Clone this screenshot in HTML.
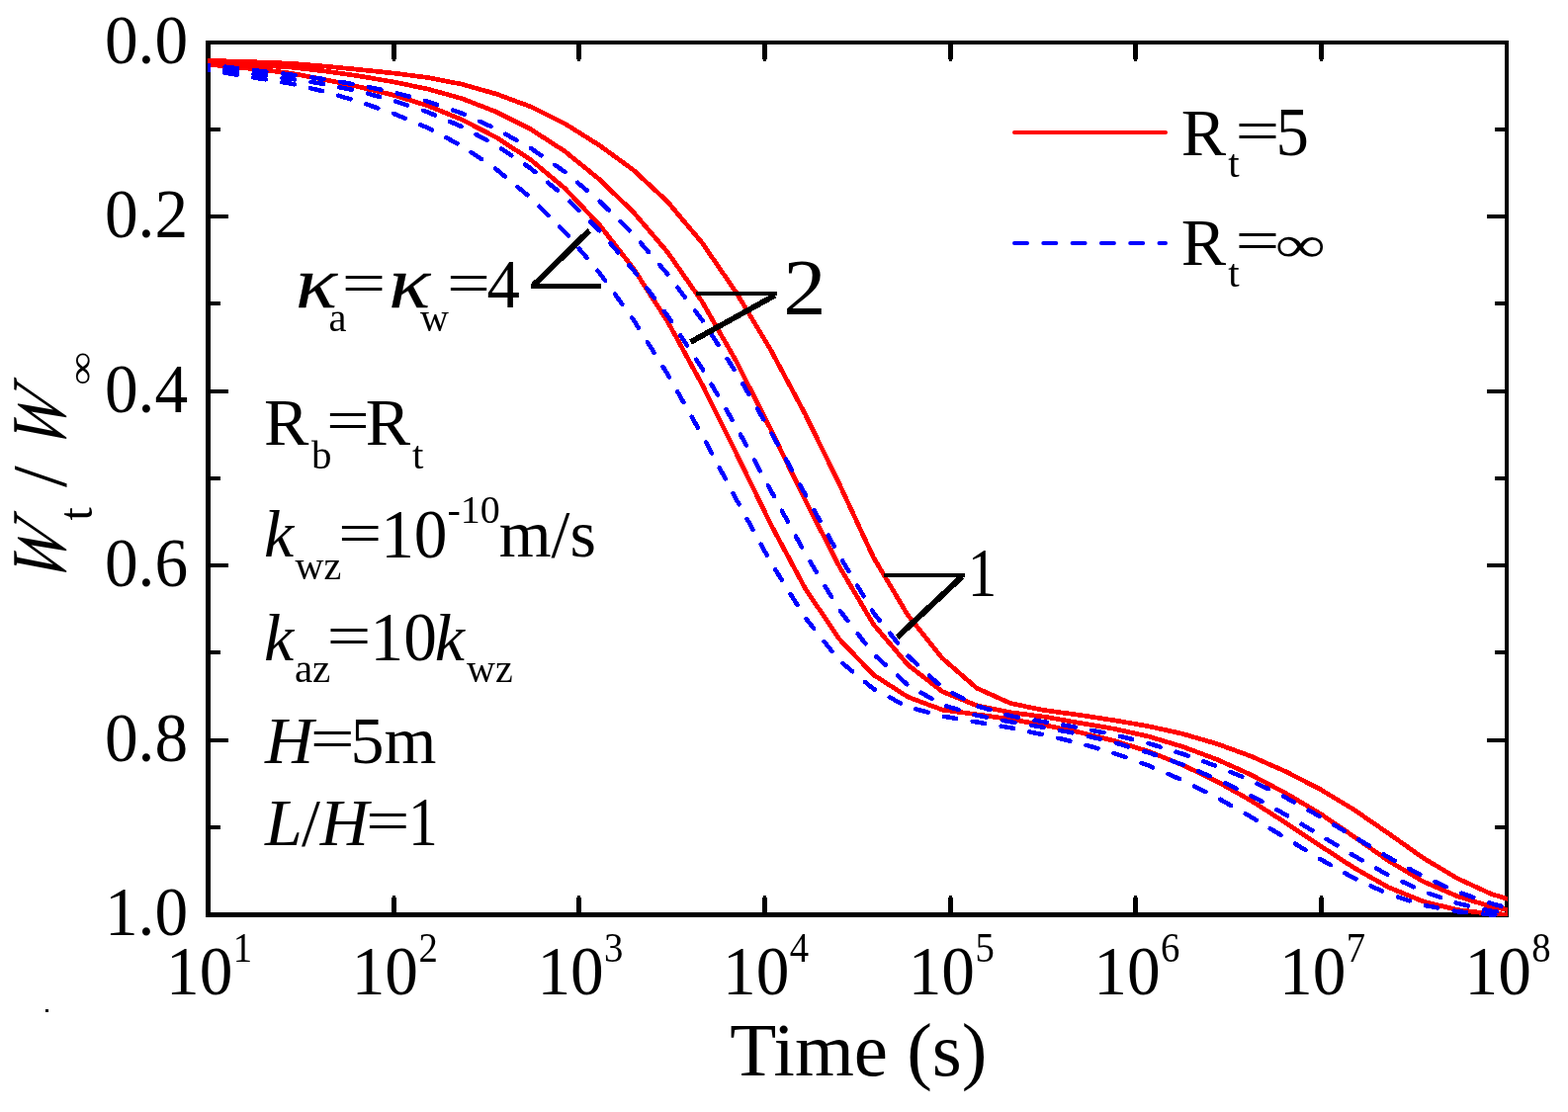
<!DOCTYPE html>
<html lang="en"><head><meta charset="utf-8"><title>Wt / W∞ versus Time (s)</title>
<style>html,body{margin:0;padding:0;background:#fff}body{width:1586px;height:1125px;overflow:hidden}svg{display:block}text{font-family:'Liberation Serif',serif;fill:#000;white-space:pre}.i{font-style:italic}.bi{font-style:italic;font-weight:bold}</style></head><body>
<svg width="1586" height="1125" viewBox="0 0 1586 1125" role="img" aria-label="Wt / W∞ versus Time (s)">
<rect x="0" y="0" width="1586" height="1125" fill="#fff"/>
<g fill="#000" shape-rendering="crispEdges">
<rect x="208" y="41" width="1318" height="4"/>
<rect x="208" y="923" width="1318" height="5"/>
<rect x="208" y="41" width="5" height="887"/>
<rect x="1522" y="41" width="4" height="887"/>
<rect x="396" y="43" width="5" height="17"/><rect x="397" y="60" width="3" height="2"/>
<rect x="396" y="908" width="5" height="17"/><rect x="397" y="906" width="3" height="2"/>
<rect x="583" y="43" width="5" height="17"/><rect x="584" y="60" width="3" height="2"/>
<rect x="583" y="908" width="5" height="17"/><rect x="584" y="906" width="3" height="2"/>
<rect x="771" y="43" width="5" height="17"/><rect x="772" y="60" width="3" height="2"/>
<rect x="771" y="908" width="5" height="17"/><rect x="772" y="906" width="3" height="2"/>
<rect x="959" y="43" width="5" height="17"/><rect x="960" y="60" width="3" height="2"/>
<rect x="959" y="908" width="5" height="17"/><rect x="960" y="906" width="3" height="2"/>
<rect x="1146" y="43" width="5" height="17"/><rect x="1147" y="60" width="3" height="2"/>
<rect x="1146" y="908" width="5" height="17"/><rect x="1147" y="906" width="3" height="2"/>
<rect x="1334" y="43" width="5" height="17"/><rect x="1335" y="60" width="3" height="2"/>
<rect x="1334" y="908" width="5" height="17"/><rect x="1335" y="906" width="3" height="2"/>
<rect x="211" y="129" width="11.5" height="4"/>
<rect x="1512" y="129" width="11.5" height="4"/>
<rect x="211" y="217" width="19.5" height="4"/>
<rect x="1504" y="217" width="19.5" height="4"/>
<rect x="211" y="305" width="11.5" height="4"/>
<rect x="1512" y="305" width="11.5" height="4"/>
<rect x="211" y="394" width="19.5" height="4"/>
<rect x="1504" y="394" width="19.5" height="4"/>
<rect x="211" y="482" width="11.5" height="4"/>
<rect x="1512" y="482" width="11.5" height="4"/>
<rect x="211" y="570" width="19.5" height="4"/>
<rect x="1504" y="570" width="19.5" height="4"/>
<rect x="211" y="658" width="11.5" height="4"/>
<rect x="1512" y="658" width="11.5" height="4"/>
<rect x="211" y="747" width="19.5" height="4"/>
<rect x="1504" y="747" width="19.5" height="4"/>
<rect x="211" y="835" width="11.5" height="4"/>
<rect x="1512" y="835" width="11.5" height="4"/>
</g>
<defs><clipPath id="plot"><rect x="210" y="43" width="1315" height="885"/></clipPath></defs>
<g fill="none" stroke="#f00" stroke-width="4.7" stroke-linejoin="round" shape-rendering="crispEdges" clip-path="url(#plot)">
<path d="M190.5,60.2 L210.5,61.1 L224.0,61.7 L258.8,62.8 L293.5,64.2 L328.2,67.0 L362.9,70.4 L397.6,74.0 L432.4,78.4 L467.1,85.2 L501.8,95.0 L536.5,107.8 L571.2,125.0 L606.0,146.8 L640.7,172.1 L675.4,204.2 L710.1,245.6 L744.8,296.1 L779.6,354.0 L814.3,418.8 L849.0,489.7 L883.7,564.3 L918.4,622.6 L953.2,665.9 L987.9,696.2 L1022.6,711.7 L1057.3,718.7 L1092.0,723.4 L1126.8,728.7 L1161.5,734.7 L1196.2,742.4 L1230.9,752.5 L1265.6,765.2 L1300.4,780.5 L1335.1,798.4 L1369.8,819.3 L1404.5,843.2 L1439.2,867.8 L1474.0,888.6 L1508.7,904.6 L1524.5,909.3 L1544.5,915.2"/>
<path d="M190.5,61.6 L210.5,63.1 L224.0,64.1 L258.8,65.9 L293.5,68.0 L328.2,71.9 L362.9,76.9 L397.6,82.8 L432.4,90.0 L467.1,99.7 L501.8,113.1 L536.5,130.6 L571.2,153.0 L606.0,181.2 L640.7,214.7 L675.4,255.3 L710.1,305.1 L744.8,365.7 L779.6,434.4 L814.3,505.8 L849.0,573.2 L883.7,631.9 L918.4,672.7 L953.2,699.7 L987.9,713.8 L1022.6,720.8 L1057.3,725.3 L1092.0,731.4 L1126.8,737.3 L1161.5,745.0 L1196.2,755.4 L1230.9,768.3 L1265.6,784.0 L1300.4,802.4 L1335.1,823.0 L1369.8,846.6 L1404.5,870.9 L1439.2,891.7 L1474.0,906.6 L1508.7,917.4 L1524.5,920.3 L1544.5,923.9"/>
<path d="M190.5,63.2 L210.5,65.2 L224.0,66.5 L258.8,69.9 L293.5,74.0 L328.2,80.5 L362.9,87.8 L397.6,96.1 L432.4,106.8 L467.1,121.0 L501.8,138.9 L536.5,161.4 L571.2,190.4 L606.0,227.1 L640.7,271.7 L675.4,325.4 L710.1,388.9 L744.8,458.8 L779.6,530.2 L814.3,595.2 L849.0,646.6 L883.7,682.9 L918.4,705.2 L953.2,718.1 L987.9,722.8 L1022.6,727.7 L1057.3,733.8 L1092.0,740.9 L1126.8,749.4 L1161.5,760.2 L1196.2,773.9 L1230.9,790.6 L1265.6,810.2 L1300.4,832.3 L1335.1,855.5 L1369.8,878.1 L1404.5,897.7 L1439.2,911.9 L1474.0,920.5 L1508.7,924.6 L1524.5,925.0 L1544.5,925.5"/>
</g>
<g fill="none" stroke="#00f" stroke-width="4.5" stroke-linecap="round" stroke-linejoin="round" shape-rendering="crispEdges" clip-path="url(#plot)">
<path d="M190.5,64.7 L210.5,66.1 L224.0,67.1 L258.8,71.4 L293.5,75.4 L328.2,80.1 L362.9,86.1 L397.6,93.3 L432.4,102.5 L467.1,114.7 L501.8,130.3 L536.5,149.7 L571.2,173.8 L606.0,203.0 L640.7,237.3 L675.4,277.5 L710.1,323.8 L744.8,377.2 L779.6,436.8 L814.3,499.8 L849.0,562.0 L883.7,620.2 L918.4,663.6 L953.2,695.7 L987.9,714.1 L1022.6,724.4 L1057.3,730.5 L1092.0,736.3 L1126.8,743.3 L1161.5,752.0 L1196.2,762.7 L1230.9,775.2 L1265.6,789.7 L1300.4,806.8 L1335.1,826.1 L1369.8,846.7 L1404.5,867.4 L1439.2,886.5 L1474.0,902.2 L1508.7,914.2 L1524.5,918.3 L1544.5,923.4" stroke-dasharray="12.60 16.77" stroke-dashoffset="21.37"/>
<path d="M190.5,66.3 L210.5,68.5 L224.0,70.0 L258.8,75.2 L293.5,79.7 L328.2,85.0 L362.9,92.3 L397.6,101.6 L432.4,113.3 L467.1,128.2 L501.8,146.9 L536.5,170.2 L571.2,198.7 L606.0,232.9 L640.7,273.3 L675.4,319.7 L710.1,372.7 L744.8,432.0 L779.6,496.0 L814.3,559.8 L849.0,617.0 L883.7,661.9 L918.4,693.2 L953.2,713.0 L987.9,723.7 L1022.6,730.4 L1057.3,736.2 L1092.0,742.7 L1126.8,751.1 L1161.5,761.4 L1196.2,773.6 L1230.9,788.2 L1265.6,805.1 L1300.4,824.1 L1335.1,844.9 L1369.8,865.9 L1404.5,885.5 L1439.2,901.7 L1474.0,913.8 L1508.7,921.8 L1524.5,923.5 L1544.5,925.7" stroke-dasharray="12.60 16.72" stroke-dashoffset="21.46"/>
<path d="M190.5,67.9 L210.5,71.0 L224.0,73.0 L258.8,78.8 L293.5,84.4 L328.2,92.6 L362.9,102.8 L397.6,114.7 L432.4,129.2 L467.1,147.7 L501.8,171.1 L536.5,199.8 L571.2,234.4 L606.0,275.5 L640.7,323.5 L675.4,378.7 L710.1,440.2 L744.8,505.3 L779.6,568.7 L814.3,624.7 L849.0,668.3 L883.7,697.1 L918.4,715.3 L953.2,724.5 L987.9,730.5 L1022.6,736.4 L1057.3,743.8 L1092.0,751.9 L1126.8,762.0 L1161.5,774.4 L1196.2,789.4 L1230.9,806.9 L1265.6,826.6 L1300.4,847.7 L1335.1,869.0 L1369.8,888.6 L1404.5,904.5 L1439.2,915.6 L1474.0,922.2 L1508.7,925.5 L1524.5,925.8 L1544.5,926.2" stroke-dasharray="12.60 16.74" stroke-dashoffset="21.36"/>
</g>
<text transform="translate(105.9,63.6) scale(0.955,1)" font-size="70.5">0.0</text>
<text transform="translate(105.9,240.1) scale(0.955,1)" font-size="70.5">0.2</text>
<text transform="translate(105.9,416.6) scale(0.955,1)" font-size="70.5">0.4</text>
<text transform="translate(105.9,593.1) scale(0.955,1)" font-size="70.5">0.6</text>
<text transform="translate(105.9,769.6) scale(0.955,1)" font-size="70.5">0.8</text>
<text transform="translate(105.9,946.1) scale(0.955,1)" font-size="70.5">1.0</text>
<text transform="translate(168.1,1006.2) scale(0.955,1)" font-size="70.5">10</text>
<text transform="translate(235.8,973.4) scale(0.900,1)" font-size="43">1</text>
<text transform="translate(355.7,1006.2) scale(0.955,1)" font-size="70.5">10</text>
<text transform="translate(423.4,973.4) scale(0.900,1)" font-size="43">2</text>
<text transform="translate(543.4,1006.2) scale(0.955,1)" font-size="70.5">10</text>
<text transform="translate(611.1,973.4) scale(0.900,1)" font-size="43">3</text>
<text transform="translate(731.0,1006.2) scale(0.955,1)" font-size="70.5">10</text>
<text transform="translate(798.7,973.4) scale(0.900,1)" font-size="43">4</text>
<text transform="translate(918.7,1006.2) scale(0.955,1)" font-size="70.5">10</text>
<text transform="translate(986.4,973.4) scale(0.900,1)" font-size="43">5</text>
<text transform="translate(1106.3,1006.2) scale(0.955,1)" font-size="70.5">10</text>
<text transform="translate(1174.0,973.4) scale(0.900,1)" font-size="43">6</text>
<text transform="translate(1294.0,1006.2) scale(0.955,1)" font-size="70.5">10</text>
<text transform="translate(1361.7,973.4) scale(0.900,1)" font-size="43">7</text>
<text transform="translate(1481.6,1006.2) scale(0.955,1)" font-size="70.5">10</text>
<text transform="translate(1549.3,973.4) scale(0.900,1)" font-size="43">8</text>
<text x="738.2" y="1088.2" font-size="77">Time (s)</text>
<text transform="translate(66.1,594.6) rotate(-90) skewX(-24) scale(0.74,1)" font-size="79">W</text>
<text transform="translate(92.6,526.5) rotate(-90)" font-size="48">t</text>
<text transform="translate(66.3,493.0) rotate(-90)" font-size="78">/</text>
<text transform="translate(66.1,459.4) rotate(-90) skewX(-24) scale(0.74,1)" font-size="79">W</text>
<text transform="translate(94.0,390.0) rotate(-90) scale(1,0.75)" font-size="48">∞</text>
<text transform="translate(299.0,310.9) scale(1.170,1)" font-size="74.5" class="i" stroke="#000" stroke-width="0.3" stroke-linejoin="round">κ</text>
<text x="332.5" y="334.7" font-size="40.5">a</text>
<text transform="translate(345.7,306.1) scale(1.161,0.859)" font-size="68">=</text>
<text transform="translate(393.2,310.9) scale(1.170,1)" font-size="74.5" class="i" stroke="#000" stroke-width="0.3" stroke-linejoin="round">κ</text>
<text x="425.0" y="334.6" font-size="40">w</text>
<text transform="translate(452.1,306.1) scale(1.148,0.859)" font-size="68">=</text>
<text transform="translate(492.6,311.0) scale(0.955,1)" font-size="70">4</text>
<text x="267.0" y="450.0" font-size="68">R</text>
<text x="314.9" y="473.5" font-size="41">b</text>
<text transform="translate(329.9,445.1) scale(1.142,0.859)" font-size="68">=</text>
<text x="369.7" y="450.0" font-size="68">R</text>
<text x="416.9" y="473.5" font-size="41">t</text>
<text x="267.0" y="563.4" font-size="68" class="i">k</text>
<text x="298.5" y="585.9" font-size="40">wz</text>
<text transform="translate(342.0,558.5) scale(1.157,0.859)" font-size="68">=</text>
<text transform="translate(385.2,563.6) scale(0.955,1)" font-size="70.5">10</text>
<text x="452.5" y="529.0" font-size="40">-10</text>
<text x="504.7" y="563.4" font-size="68">m/s</text>
<text x="267.0" y="667.6" font-size="68" class="i">k</text>
<text x="297.9" y="690.4" font-size="41">az</text>
<text transform="translate(330.6,662.7) scale(1.173,0.859)" font-size="68">=</text>
<text transform="translate(374.6,667.8) scale(0.955,1)" font-size="70.5">10</text>
<text x="439.8" y="667.6" font-size="68" class="i">k</text>
<text x="472.0" y="690.4" font-size="40">wz</text>
<text x="267.9" y="771.5" font-size="68" class="i">H</text>
<text transform="translate(313.7,766.6) scale(1.173,0.859)" font-size="68">=</text>
<text x="354.4" y="771.5" font-size="68">5m</text>
<text x="267.9" y="855.1" font-size="68" class="i">L</text>
<text x="305.0" y="855.1" font-size="68">/</text>
<text x="323.8" y="855.1" font-size="68" class="i">H</text>
<text transform="translate(369.9,850.2) scale(1.161,0.859)" font-size="68">=</text>
<text transform="translate(412.9,855.1) scale(0.850,1)" font-size="70">1</text>
<text transform="translate(792.2,317.5) scale(1.070,1)" font-size="81">2</text>
<text transform="translate(978.8,602.9) scale(0.850,1)" font-size="69.5">1</text>
<line x1="1026" y1="134" x2="1179" y2="134" stroke="#f00" stroke-width="4" stroke-linecap="round"/>
<line x1="1026" y1="246" x2="1179" y2="246" stroke="#00f" stroke-width="4" stroke-linecap="round" stroke-dasharray="13 16.3"/>
<text x="1194.7" y="157.0" font-size="68">R</text>
<text x="1242.2" y="179.3" font-size="41">t</text>
<text transform="translate(1249.5,152.1) scale(1.170,0.859)" font-size="68">=</text>
<text x="1194.7" y="268.0" font-size="68">R</text>
<text x="1242.2" y="290.3" font-size="41">t</text>
<text transform="translate(1249.5,263.1) scale(1.170,0.859)" font-size="68">=</text>
<text transform="translate(1290.6,157.0) scale(0.955,1)" font-size="70">5</text>
<text transform="translate(1289.7,264.7) scale(1,0.74)" font-size="71.5">∞</text>
<g fill="none" stroke="#000" stroke-linecap="butt" shape-rendering="crispEdges">
<rect x="537.2" y="287.0" width="70.7" height="5" fill="#000" stroke="none"/>
<line x1="540.0" y1="288.2" x2="596.2" y2="233.2" stroke-width="6"/>
<rect x="704.4" y="295.0" width="81.2" height="4" fill="#000" stroke="none"/>
<line x1="783.8" y1="298.8" x2="698.6" y2="346.0" stroke-width="5.7"/>
<rect x="894.2" y="580.0" width="81.4" height="4" fill="#000" stroke="none"/>
<line x1="973.2" y1="583.2" x2="907.6" y2="644.6" stroke-width="6"/>
</g>
<rect x="46" y="1021" width="3" height="3" fill="#000" shape-rendering="crispEdges"/>
</svg></body></html>
